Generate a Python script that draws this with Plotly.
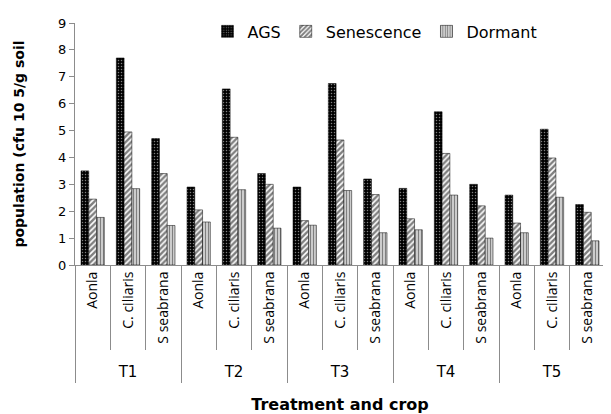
import plotly.graph_objects as go

treatments = ["T1", "T2", "T3", "T4", "T5"]
crops = ["Aonla", "C. ciliaris", "S seabrana"]

ags = [3.5, 7.7, 4.7, 2.9, 6.55, 3.4, 2.9, 6.75, 3.2, 2.85, 5.7, 3.0, 2.6, 5.05, 2.25]
senescence = [2.45, 4.95, 3.4, 2.05, 4.75, 3.0, 1.65, 4.65, 2.62, 1.72, 4.15, 2.2, 1.56, 3.98, 1.96]
dormant = [1.77, 2.84, 1.47, 1.6, 2.8, 1.37, 1.48, 2.77, 1.2, 1.31, 2.6, 1.0, 1.2, 2.52, 0.9]

n_crop = len(crops)
inner_labels = [c for _ in treatments for c in crops]
pos = list(range(len(inner_labels)))
group_centers = [i * n_crop + (n_crop - 1) / 2 for i in range(len(treatments))]

AX = "#8c8c8c"

fig = go.Figure()
fig.add_trace(go.Bar(name="AGS", x=pos, y=ags,
                     marker=dict(color="black", line=dict(color="black", width=0.5),
                                 pattern=dict(shape=".", bgcolor="black", fgcolor="white", size=3, solidity=0.2))))
fig.add_trace(go.Bar(name="Senescence", x=pos, y=senescence,
                     marker=dict(color="white", line=dict(color="black", width=0.5),
                                 pattern=dict(shape="/", bgcolor="white", fgcolor="black", size=4, solidity=0.6))))
fig.add_trace(go.Bar(name="Dormant", x=pos, y=dormant,
                     marker=dict(color="white", line=dict(color="black", width=0.5),
                                 pattern=dict(shape="|", bgcolor="white", fgcolor="black", size=3, solidity=0.6))))
# invisible trace to activate the outer-level axis
fig.add_trace(go.Scatter(x=group_centers, y=[None] * len(group_centers), xaxis="x2",
                         showlegend=False, hoverinfo="skip"))

rng = [-0.5, len(pos) - 0.5]
fig.update_layout(
    width=603, height=406,
    margin=dict(l=67, r=6, t=7, b=149),
    paper_bgcolor="white", plot_bgcolor="white",
    barmode="group", bargap=0.34, bargroupgap=0,
    font=dict(family="DejaVu Sans", color="black", size=12),
    legend=dict(orientation="h", x=0.25, y=0.965, xanchor="left", yanchor="middle",
                font=dict(size=16), bgcolor="rgba(0,0,0,0)", itemwidth=30),
    xaxis=dict(range=rng, tickmode="array", tickvals=pos, ticktext=inner_labels,
               tickangle=-90, tickfont=dict(family="Open Sans", size=14),
               showline=True, linecolor=AX, showgrid=False, ticks="", automargin=False,
               minor=dict(tick0=-0.5, dtick=1, ticks="outside", ticklen=84, tickcolor=AX, showgrid=False),
               title=dict(text="<b>Treatment and crop</b>", font=dict(size=16), standoff=66)),
    xaxis2=dict(range=rng, overlaying="x", anchor="y", side="bottom", tickmode="array",
                tickvals=group_centers, ticktext=treatments, ticks="", showline=False,
                showgrid=False, automargin=False, ticklabelstandoff=96,
                tickfont=dict(size=15),
                minor=dict(tick0=-0.5, dtick=n_crop, ticks="outside", ticklen=117, tickcolor=AX, showgrid=False)),
    yaxis=dict(range=[0, 9], dtick=1, showgrid=False, showline=True, linecolor=AX,
               ticks="outside", ticklen=5, tickcolor=AX, automargin=False,
               tickfont=dict(size=13),
               title=dict(text="<b>population (cfu 10 5/g soil</b>", font=dict(size=14), standoff=30)),
)

fig.write_html("out.html")
